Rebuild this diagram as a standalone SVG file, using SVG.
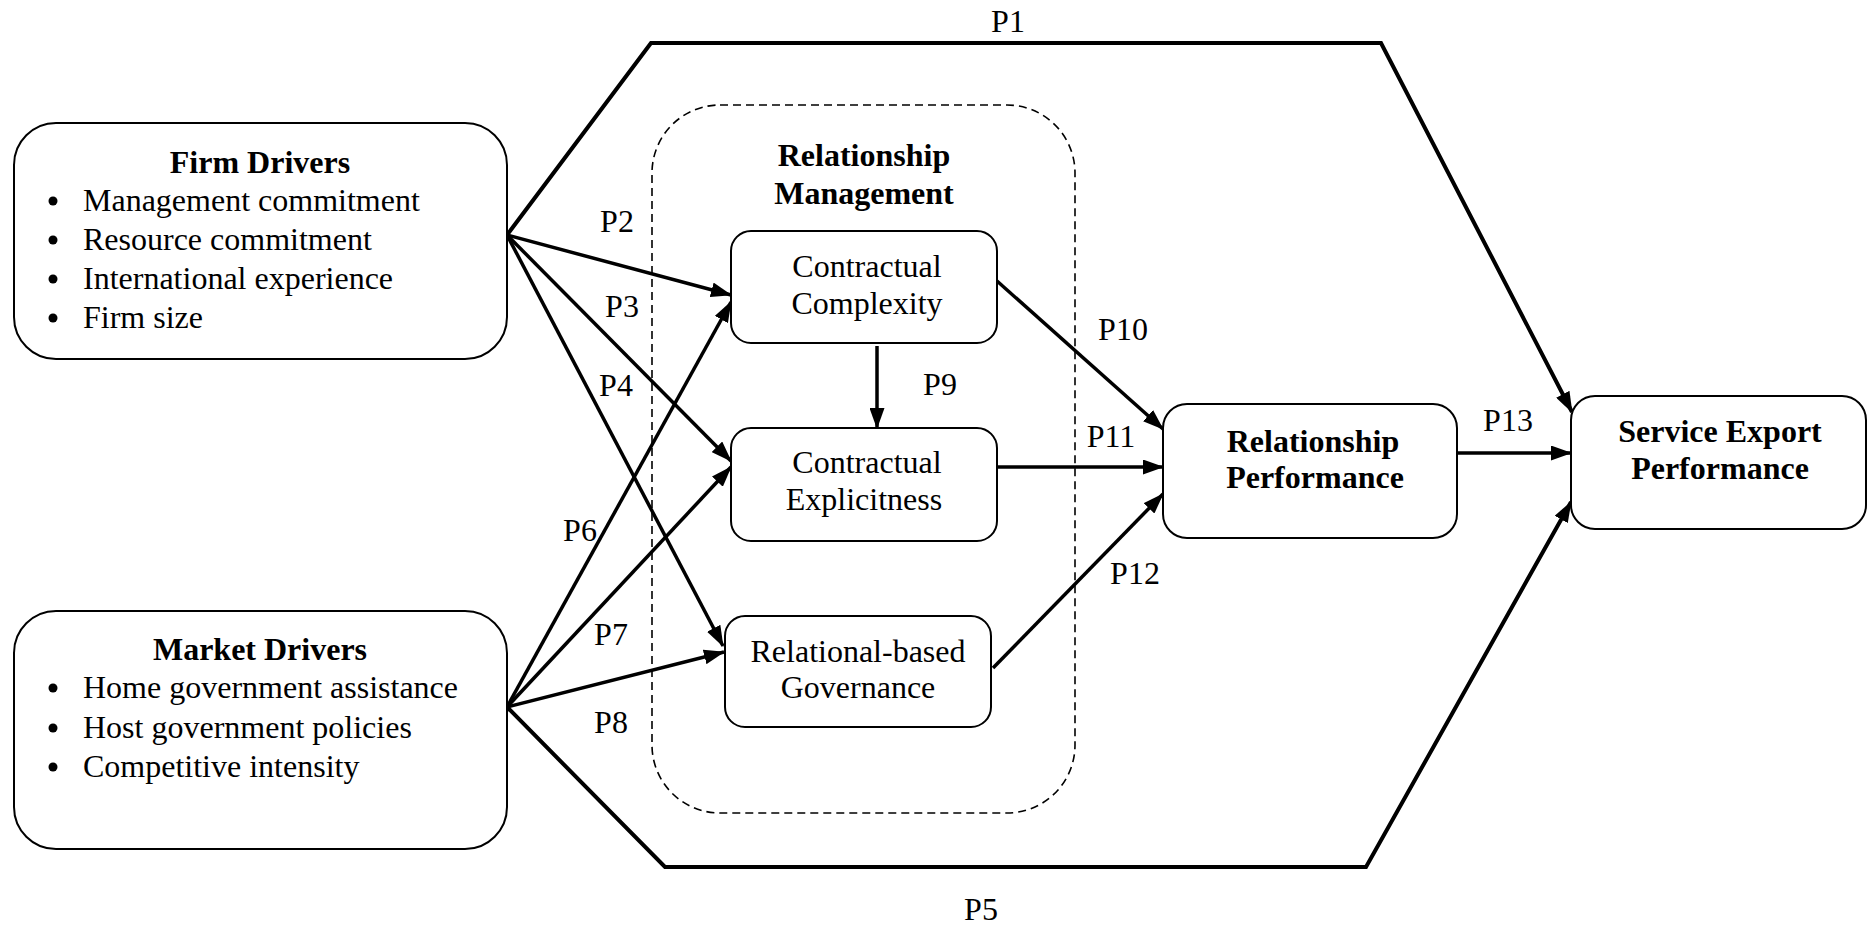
<svg xmlns="http://www.w3.org/2000/svg" width="1869" height="928" viewBox="0 0 1869 928">
  <style>
    .box { fill: #fff; stroke: #000; stroke-width: 2; }
    .group { fill: none; stroke: #000; stroke-width: 1.6; stroke-dasharray: 8 5; }
    .t { font-family: "Liberation Serif", "Times New Roman", serif; font-size: 32px; fill: #000; }
    .b { font-weight: bold; }
    .c { text-anchor: middle; }
    .edge { fill: none; stroke: #000; stroke-width: 3.5; stroke-linejoin: miter; }
    .long { stroke-width: 4; }
    .lbl { font-family: "Liberation Serif", "Times New Roman", serif; font-size: 32px; fill: #000; text-anchor: middle; }
  </style>
  <defs>
    <marker id="arrow" markerUnits="userSpaceOnUse" markerWidth="21" markerHeight="15" refX="20" refY="7.5" orient="auto">
      <path d="M0,0 L21,7.5 L0,15 z" fill="#000"/>
    </marker>
  </defs>

  <rect width="1869" height="928" fill="#fff"/>

  <!-- dashed grouping frame -->
  <g id="relationship-management">
    <rect class="group" x="652" y="105" width="423" height="708" rx="68"/>
    <text class="t b c" x="864" y="166">Relationship</text>
    <text class="t b c" x="864" y="204">Management</text>
  </g>

  <!-- connectors -->
  <g id="connectors">
    <path class="edge long" d="M507,235 L651,43 L1381,43 L1572,412" marker-end="url(#arrow)"/>
    <path class="edge long" d="M507,707 L665,867 L1366,867 L1571,502" marker-end="url(#arrow)"/>
    <path class="edge" d="M507,235 L731,295" marker-end="url(#arrow)"/>
    <path class="edge" d="M507,235 L731,461" marker-end="url(#arrow)"/>
    <path class="edge" d="M507,235 L723,646" marker-end="url(#arrow)"/>
    <path class="edge" d="M507,707 L731,302" marker-end="url(#arrow)"/>
    <path class="edge" d="M507,707 L731,467" marker-end="url(#arrow)"/>
    <path class="edge" d="M507,707 L724,652" marker-end="url(#arrow)"/>
    <path class="edge" d="M877,346 L877,428" marker-end="url(#arrow)"/>
    <path class="edge" d="M997,281 L1163,429" marker-end="url(#arrow)"/>
    <path class="edge" d="M997,467 L1163,467" marker-end="url(#arrow)"/>
    <path class="edge" d="M993,668 L1163,494" marker-end="url(#arrow)"/>
    <path class="edge" d="M1457,453 L1571,453" marker-end="url(#arrow)"/>

    <text class="lbl" x="1008" y="32">P1</text>
    <text class="lbl" x="617" y="232">P2</text>
    <text class="lbl" x="622" y="317">P3</text>
    <text class="lbl" x="616" y="396">P4</text>
    <text class="lbl" x="981" y="920">P5</text>
    <text class="lbl" x="580" y="541">P6</text>
    <text class="lbl" x="611" y="645">P7</text>
    <text class="lbl" x="611" y="733">P8</text>
    <text class="lbl" x="940" y="395">P9</text>
    <text class="lbl" x="1123" y="340">P10</text>
    <text class="lbl" x="1111" y="447">P11</text>
    <text class="lbl" x="1135" y="584">P12</text>
    <text class="lbl" x="1508" y="431">P13</text>
  </g>

  <g id="firm-drivers">
    <rect class="box" x="14" y="123" width="493" height="236" rx="42"/>
    <text class="t b c" x="260" y="173">Firm Drivers</text>
    <circle cx="53" cy="201" r="4.5"/>
    <text class="t" x="83" y="211">Management commitment</text>
    <circle cx="53" cy="240" r="4.5"/>
    <text class="t" x="83" y="250">Resource commitment</text>
    <circle cx="53" cy="279" r="4.5"/>
    <text class="t" x="83" y="289">International experience</text>
    <circle cx="53" cy="318" r="4.5"/>
    <text class="t" x="83" y="328">Firm size</text>
  </g>

  <g id="market-drivers">
    <rect class="box" x="14" y="611" width="493" height="238" rx="42"/>
    <text class="t b c" x="260" y="660">Market Drivers</text>
    <circle cx="53" cy="688" r="4.5"/>
    <text class="t" x="83" y="698">Home government assistance</text>
    <circle cx="53" cy="728" r="4.5"/>
    <text class="t" x="83" y="738">Host government policies</text>
    <circle cx="53" cy="767" r="4.5"/>
    <text class="t" x="83" y="777">Competitive intensity</text>
  </g>

  <g id="contractual-complexity">
    <rect class="box" x="731" y="231" width="266" height="112" rx="20"/>
    <text class="t c" x="867" y="277">Contractual</text>
    <text class="t c" x="867" y="314">Complexity</text>
  </g>

  <g id="contractual-explicitness">
    <rect class="box" x="731" y="428" width="266" height="113" rx="20"/>
    <text class="t c" x="867" y="473">Contractual</text>
    <text class="t c" x="864" y="510">Explicitness</text>
  </g>

  <g id="relational-governance">
    <rect class="box" x="725" y="616" width="266" height="111" rx="20"/>
    <text class="t c" x="858" y="662">Relational-based</text>
    <text class="t c" x="858" y="698">Governance</text>
  </g>

  <g id="relationship-performance">
    <rect class="box" x="1163" y="404" width="294" height="134" rx="24"/>
    <text class="t b c" x="1313" y="452">Relationship</text>
    <text class="t b c" x="1315" y="488">Performance</text>
  </g>

  <g id="service-export-performance">
    <rect class="box" x="1571" y="396" width="295" height="133" rx="24"/>
    <text class="t b c" x="1720" y="442">Service Export</text>
    <text class="t b c" x="1720" y="479">Performance</text>
  </g>
</svg>
